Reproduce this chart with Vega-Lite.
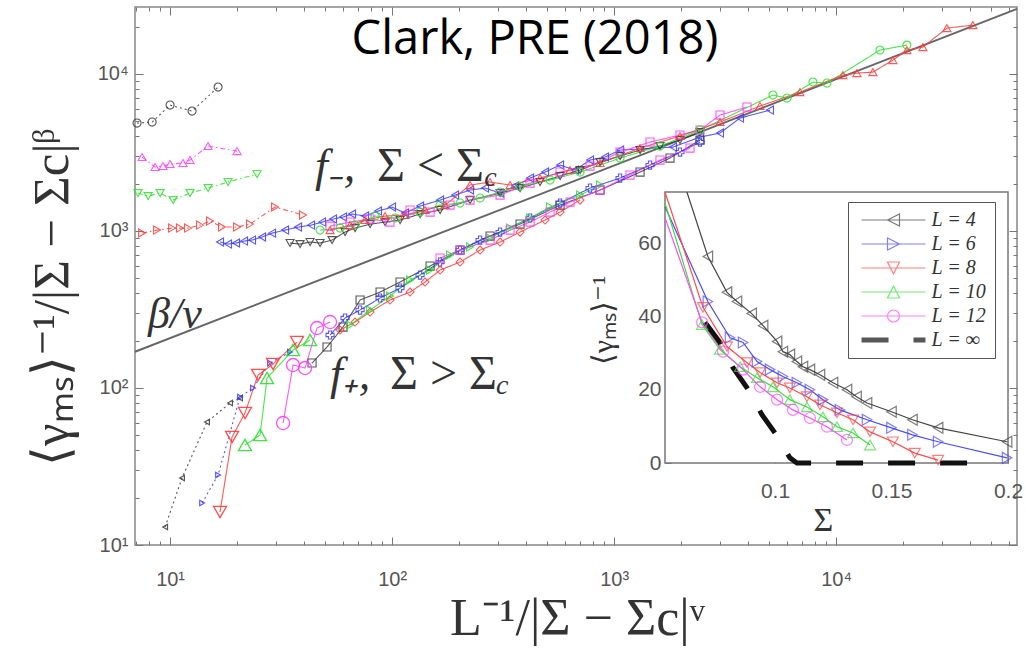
{
  "$schema": "https://vega.github.io/schema/vega-lite/v6.json",
  "width": 882,
  "height": 538,
  "autosize": "none",
  "padding": {"left": 135, "top": 7, "right": 9, "bottom": 104},
  "background": "white",
  "config": {
    "view": {"stroke": "#888", "strokeWidth": 1.5},
    "axis": {"labelFont": "Liberation Sans", "labelColor": "#555", "labelFontSize": 20, "tickColor": "#777", "domain": false, "grid": false, "titleFont": "Liberation Serif", "titleFontWeight": "normal", "titleColor": "#333", "labelOverlap": false, "labelFlush": false, "labelBound": false}
  },
  "datasets": {
    "main": [
      {"s":"a1","x":7.10,"y":4866},{"s":"a1","x":8.30,"y":4938},{"s":"a1","x":10,"y":6336},{"s":"a1","x":12.56,"y":5802},{"s":"a1","x":16.45,"y":8249},
      {"s":"a2","x":7.48,"y":2956},{"s":"a2","x":8.56,"y":2553},{"s":"a2","x":9.30,"y":2591},{"s":"a2","x":10,"y":2668},{"s":"a2","x":11.44,"y":2707},{"s":"a2","x":12.30,"y":2829},{"s":"a2","x":14.83,"y":3473},{"s":"a2","x":20.03,"y":3227},
      {"s":"a3","x":7.17,"y":1743},{"s":"a3","x":7.96,"y":1668},{"s":"a3","x":9.02,"y":1743},{"s":"a3","x":10.32,"y":1573},{"s":"a3","x":12.30,"y":1743},{"s":"a3","x":14.83,"y":1876},{"s":"a3","x":18.24,"y":2049},{"s":"a3","x":24.64,"y":2304},
      {"s":"a4","x":7.48,"y":970},{"s":"a4","x":8.74,"y":1013},{"s":"a4","x":10.21,"y":1043},{"s":"a4","x":11.09,"y":1043},{"s":"a4","x":12.05,"y":1043},{"s":"a4","x":13.65,"y":1090},{"s":"a4","x":15.14,"y":1156},{"s":"a4","x":17.14,"y":1059},{"s":"a4","x":20.03,"y":1059},{"s":"a4","x":22.92,"y":1106},{"s":"a4","x":29.69,"y":1420},{"s":"a4","x":39.71,"y":1263},
      {"s":"u1","x":16.79,"y":850},{"s":"u1","x":18.24,"y":825},{"s":"u1","x":19.82,"y":838},{"s":"u1","x":21.53,"y":862},{"s":"u1","x":23.40,"y":875},{"s":"u1","x":25.96,"y":915},{"s":"u1","x":28.79,"y":969},{"s":"u1","x":32.95,"y":1013},{"s":"u1","x":37.70,"y":1059},{"s":"u1","x":43.15,"y":1090},{"s":"u1","x":48.37,"y":1139},{"s":"u1","x":54.21,"y":1191},{"s":"u1","x":60.14,"y":1227},{"s":"u1","x":66.02,"y":1282},{"s":"u1","x":75.54,"y":1245},{"s":"u1","x":86.44,"y":1339},{"s":"u1","x":99.95,"y":1420},{"s":"u1","x":114.4,"y":1300},{"s":"u1","x":133.7,"y":1441},{"s":"u1","x":164.5,"y":1573},{"s":"u1","x":192.2,"y":1693},{"s":"u1","x":224.5,"y":1822},{"s":"u1","x":262.3,"y":1876},{"s":"u1","x":306.5,"y":1744},{"s":"u1","x":358.0,"y":1932},{"s":"u1","x":418.3,"y":2173},{"s":"u1","x":488.6,"y":2372},{"s":"u1","x":571.0,"y":2629},{"s":"u1","x":666.9,"y":2443},{"s":"u1","x":779.3,"y":2829},{"s":"u1","x":910.2,"y":2956},{"s":"u1","x":1064,"y":3275},{"s":"u1","x":1842,"y":3422},{"s":"u1","x":2438,"y":3964},{"s":"u1","x":3000,"y":4202},{"s":"u1","x":3691,"y":5237},{"s":"u1","x":5037,"y":5888},
      {"s":"u2","x":34.71,"y":838},{"s":"u2","x":38.5,"y":825},{"s":"u2","x":42.71,"y":850},{"s":"u2","x":47.38,"y":838},{"s":"u2","x":53.65,"y":875},{"s":"u2","x":61.39,"y":984},{"s":"u2","x":68.10,"y":1043},{"s":"u2","x":79.58,"y":1106},{"s":"u2","x":92.96,"y":1139},{"s":"u2","x":108.6,"y":1174},{"s":"u2","x":133.7,"y":1282},{"s":"u2","x":164.5,"y":1359},{"s":"u2","x":224.5,"y":1573},{"s":"u2","x":306.5,"y":1744},{"s":"u2","x":377.1,"y":1876},{"s":"u2","x":464.0,"y":2049},{"s":"u2","x":571.0,"y":2237},{"s":"u2","x":702.5,"y":2443},{"s":"u2","x":864.4,"y":2747},{"s":"u2","x":1064,"y":3000},{"s":"u2","x":1309,"y":3275},{"s":"u2","x":1610,"y":3473},{"s":"u2","x":1981,"y":3793},{"s":"u2","x":2438,"y":4264},
      {"s":"u3","x":52.55,"y":1074},{"s":"u3","x":64.67,"y":1139},{"s":"u3","x":79.58,"y":1191},{"s":"u3","x":97.9,"y":1139},{"s":"u3","x":120.5,"y":1359},{"s":"u3","x":148.3,"y":1320},{"s":"u3","x":182.5,"y":1462},{"s":"u3","x":224.5,"y":1573},{"s":"u3","x":306.5,"y":1693},{"s":"u3","x":418.3,"y":2019},{"s":"u3","x":571.0,"y":2372},{"s":"u3","x":779.3,"y":2591},{"s":"u3","x":1064,"y":3180},{"s":"u3","x":1452,"y":3683},{"s":"u3","x":1981,"y":4082},{"s":"u3","x":2438,"y":4391},{"s":"u3","x":3000,"y":5472},{"s":"u3","x":3968,"y":6153},
      {"s":"u4","x":47.38,"y":1013},{"s":"u4","x":58.3,"y":1043},{"s":"u4","x":68.10,"y":1090},{"s":"u4","x":83.80,"y":1245},{"s":"u4","x":103.1,"y":1209},{"s":"u4","x":133.7,"y":1320},{"s":"u4","x":164.5,"y":1462},{"s":"u4","x":202.4,"y":1506},{"s":"u4","x":249.1,"y":1620},{"s":"u4","x":306.5,"y":1769},{"s":"u4","x":377.1,"y":1932},{"s":"u4","x":514.7,"y":2110},{"s":"u4","x":702.5,"y":2372},{"s":"u4","x":1064,"y":2913},{"s":"u4","x":1610,"y":3473},{"s":"u4","x":2438,"y":4391},{"s":"u4","x":5196,"y":7336},{"s":"u4","x":6007,"y":7020},{"s":"u4","x":7866,"y":8876},{"s":"u4","x":9093,"y":8746},{"s":"u4","x":15757,"y":14190},{"s":"u4","x":20842,"y":15268},
      {"s":"u5","x":52.55,"y":1013},{"s":"u5","x":64.67,"y":1090},{"s":"u5","x":75.54,"y":1174},{"s":"u5","x":92.96,"y":1245},{"s":"u5","x":114.4,"y":1263},{"s":"u5","x":140.8,"y":1359},{"s":"u5","x":173.2,"y":1462},{"s":"u5","x":224.5,"y":1961},{"s":"u5","x":276.3,"y":2049},{"s":"u5","x":340.0,"y":1961},{"s":"u5","x":464.0,"y":2173},{"s":"u5","x":633.3,"y":2443},{"s":"u5","x":864.4,"y":2707},{"s":"u5","x":1309,"y":3373},{"s":"u5","x":1981,"y":4022},{"s":"u5","x":3000,"y":4938},{"s":"u5","x":4541,"y":6244},{"s":"u5","x":6875,"y":7666},{"s":"u5","x":10736,"y":9836},{"s":"u5","x":12411,"y":10127},{"s":"u5","x":14652,"y":10277},{"s":"u5","x":18029,"y":12255},{"s":"u5","x":20842,"y":14190},{"s":"u5","x":24606,"y":14827},{"s":"u5","x":31552,"y":19592},{"s":"u5","x":41320,"y":20473},
      {"s":"l1","x":9.50,"y":13.02},{"s":"l1","x":11.32,"y":26.71},{"s":"l1","x":14.67,"y":60.71},{"s":"l1","x":18.63,"y":80.21},{"s":"l1","x":20.66,"y":86.32},
      {"s":"l2","x":13.94,"y":18.52},{"s":"l2","x":16.45,"y":27.91},{"s":"l2","x":20.66,"y":87.59},{"s":"l2","x":23.64,"y":99.95},{"s":"l2","x":28.20,"y":144.2},{"s":"l2","x":34.71,"y":169.4},
      {"s":"l3","x":16.79,"y":16.23},{"s":"l3","x":19.02,"y":48.73},{"s":"l3","x":21.75,"y":69.27},{"s":"l3","x":24.90,"y":121.0},{"s":"l3","x":29.09,"y":142.1},{"s":"l3","x":37.31,"y":196.2},
      {"s":"l4","x":21.75,"y":43.33},{"s":"l4","x":25.43,"y":50.17},{"s":"l4","x":27.34,"y":115.7},{"s":"l4","x":35.80,"y":174.5},{"s":"l4","x":42.71,"y":202.0},
      {"s":"l5","x":32.28,"y":59.83},{"s":"l5","x":35.80,"y":140.0},{"s":"l5","x":40.54,"y":134.0},{"s":"l5","x":45.91,"y":240.9},{"s":"l5","x":52.55,"y":263.1},
      {"s":"l6","x":43.60,"y":144.2},{"s":"l6","x":50.93,"y":182.4},{"s":"l6","x":60.14,"y":244.4},{"s":"l6","x":71.74,"y":363.2},{"s":"l6","x":88.28,"y":408.3},{"s":"l6","x":108.6,"y":472.8},{"s":"l6","x":148.3,"y":597.9},{"s":"l6","x":202.4,"y":755.9},{"s":"l6","x":276.3,"y":928.2},{"s":"l6","x":377.1,"y":1107},{"s":"l6","x":571.0,"y":1462},{"s":"l6","x":864.4,"y":1822},{"s":"l6","x":1309,"y":2372},{"s":"l6","x":1786,"y":2913},{"s":"l6","x":2438,"y":3793},
      {"s":"l7","x":52.55,"y":217.4},{"s":"l7","x":61.39,"y":279.0},{"s":"l7","x":71.74,"y":313.6},{"s":"l7","x":88.28,"y":374.0},{"s":"l7","x":108.6,"y":433.0},{"s":"l7","x":133.7,"y":524.0},{"s":"l7","x":164.5,"y":633.9},{"s":"l7","x":202.4,"y":755.9},{"s":"l7","x":249.1,"y":875.3},{"s":"l7","x":306.5,"y":983.7},{"s":"l7","x":418.3,"y":1209},{"s":"l7","x":571.0,"y":1505},{"s":"l7","x":779.3,"y":1876},{"s":"l7","x":1064,"y":2173},{"s":"l7","x":1452,"y":2629},{"s":"l7","x":1981,"y":3180},{"s":"l7","x":2438,"y":3683},
      {"s":"l8","x":58.30,"y":233.9},{"s":"l8","x":68.10,"y":263.1},{"s":"l8","x":79.58,"y":304.5},{"s":"l8","x":97.9,"y":363.2},{"s":"l8","x":120.5,"y":408.3},{"s":"l8","x":140.8,"y":472.8},{"s":"l8","x":164.5,"y":563.8},{"s":"l8","x":202.4,"y":633.9},{"s":"l8","x":249.1,"y":755.9},{"s":"l8","x":306.5,"y":850},{"s":"l8","x":377.1,"y":983.7},{"s":"l8","x":488.6,"y":1174},{"s":"l8","x":571.0,"y":1320},{"s":"l8","x":702.5,"y":1573},
      {"s":"l9","x":64.67,"y":251.7},{"s":"l9","x":79.58,"y":313.6},{"s":"l9","x":97.9,"y":385.1},{"s":"l9","x":120.5,"y":486.9},{"s":"l9","x":148.3,"y":563.8},{"s":"l9","x":182.5,"y":702.4},{"s":"l9","x":224.5,"y":789.9},{"s":"l9","x":276.3,"y":901.4},{"s":"l9","x":340.0,"y":1043},{"s":"l9","x":418.3,"y":1209},{"s":"l9","x":514.7,"y":1420},{"s":"l9","x":702.5,"y":1693},{"s":"l9","x":864.4,"y":1961},
      {"s":"l10","x":164.5,"y":672.3},{"s":"l10","x":202.4,"y":755.9},{"s":"l10","x":276.3,"y":875.3},{"s":"l10","x":340.0,"y":1013},{"s":"l10","x":418.3,"y":1139},{"s":"l10","x":514.7,"y":1320},{"s":"l10","x":633.3,"y":1527},{"s":"l10","x":864.4,"y":1822},{"s":"l10","x":1180,"y":2270},{"s":"l10","x":1610,"y":2829},{"s":"l10","x":2198,"y":3373}
    ],
    "inset": [
      {"L":"L = 4","x":0.0622,"y":74},{"L":"L = 4","x":0.0712,"y":56.4},{"L":"L = 4","x":0.0794,"y":46.6},{"L":"L = 4","x":0.0837,"y":44.1},{"L":"L = 4","x":0.090,"y":40.8},{"L":"L = 4","x":0.0949,"y":37.5},{"L":"L = 4","x":0.1009,"y":33.2},{"L":"L = 4","x":0.1034,"y":30.4},{"L":"L = 4","x":0.1064,"y":29.6},{"L":"L = 4","x":0.1094,"y":27.7},{"L":"L = 4","x":0.112,"y":26.3},{"L":"L = 4","x":0.115,"y":25.5},{"L":"L = 4","x":0.1193,"y":24.1},{"L":"L = 4","x":0.1249,"y":21.9},{"L":"L = 4","x":0.1309,"y":20},{"L":"L = 4","x":0.135,"y":18.1},{"L":"L = 4","x":0.1395,"y":16.4},{"L":"L = 4","x":0.150,"y":14.0},{"L":"L = 4","x":0.159,"y":11.8},{"L":"L = 4","x":0.170,"y":9.6},{"L":"L = 4","x":0.1996,"y":5.8},
      {"L":"L = 6","x":0.0528,"y":70},{"L":"L = 6","x":0.0712,"y":44.1},{"L":"L = 6","x":0.0807,"y":34.2},{"L":"L = 6","x":0.0863,"y":32.9},{"L":"L = 6","x":0.0923,"y":27.7},{"L":"L = 6","x":0.0979,"y":25.5},{"L":"L = 6","x":0.1034,"y":23.6},{"L":"L = 6","x":0.1094,"y":21.9},{"L":"L = 6","x":0.115,"y":20},{"L":"L = 6","x":0.1206,"y":17.3},{"L":"L = 6","x":0.1279,"y":14.5},{"L":"L = 6","x":0.1395,"y":11.8},{"L":"L = 6","x":0.150,"y":9.6},{"L":"L = 6","x":0.159,"y":7.7},{"L":"L = 6","x":0.170,"y":5.8},{"L":"L = 6","x":0.1996,"y":1.4},
      {"L":"L = 8","x":0.0528,"y":74},{"L":"L = 8","x":0.0691,"y":42.5},{"L":"L = 8","x":0.0794,"y":31.8},{"L":"L = 8","x":0.088,"y":27.4},{"L":"L = 8","x":0.0936,"y":24.7},{"L":"L = 8","x":0.1009,"y":21.9},{"L":"L = 8","x":0.1064,"y":20.5},{"L":"L = 8","x":0.1137,"y":18.1},{"L":"L = 8","x":0.1193,"y":15.9},{"L":"L = 8","x":0.1266,"y":13.7},{"L":"L = 8","x":0.1335,"y":11.8},{"L":"L = 8","x":0.1408,"y":8.5},{"L":"L = 8","x":0.1506,"y":5.8},{"L":"L = 8","x":0.160,"y":2.7},{"L":"L = 8","x":0.170,"y":0.8},
      {"L":"L = 10","x":0.0528,"y":71},{"L":"L = 10","x":0.0687,"y":37.8},{"L":"L = 10","x":0.0764,"y":31},{"L":"L = 10","x":0.085,"y":26.3},{"L":"L = 10","x":0.0923,"y":23.3},{"L":"L = 10","x":0.0991,"y":20.8},{"L":"L = 10","x":0.1064,"y":17.3},{"L":"L = 10","x":0.1137,"y":15.3},{"L":"L = 10","x":0.1206,"y":12.6},{"L":"L = 10","x":0.1266,"y":9.9},{"L":"L = 10","x":0.1335,"y":8.2},{"L":"L = 10","x":0.1408,"y":4.9},
      {"L":"L = 12","x":0.0528,"y":67},{"L":"L = 12","x":0.0687,"y":38.4},{"L":"L = 12","x":0.0777,"y":30.4},{"L":"L = 12","x":0.0863,"y":25.5},{"L":"L = 12","x":0.0936,"y":20.8},{"L":"L = 12","x":0.1009,"y":17.3},{"L":"L = 12","x":0.1077,"y":14.5},{"L":"L = 12","x":0.115,"y":12.3},{"L":"L = 12","x":0.1223,"y":9.9},{"L":"L = 12","x":0.1309,"y":6.3},
      {"L":"L = ∞","x":0.070,"y":38.4},{"L":"L = ∞","x":0.0764,"y":32.9},{"L":"L = ∞","x":0.082,"y":26},{"L":"L = ∞","x":0.088,"y":20.5},{"L":"L = ∞","x":0.0944,"y":13.2},{"L":"L = ∞","x":0.1,"y":8.2},{"L":"L = ∞","x":0.1064,"y":1.4},{"L":"L = ∞","x":0.1094,"y":0},{"L":"L = ∞","x":0.188,"y":0}
    ]
  },
  "layer": [
    {
      "data": {"name": "main"},
      "layer": [
        {
          "data": {"values": [{"x": 6.95, "y": 170}, {"x": 65300, "y": 26000}]},
          "mark": {"type": "line", "color": "#666", "strokeWidth": 2},
          "encoding": {
            "x": {"field": "x", "type": "quantitative", "scale": {"type": "log", "domain": [6.95, 65300], "nice": false},
              "axis": {"orient": "bottom", "values": [10, 100, 1000, 10000], "labelExpr": "datum.value == 10 ? '10¹' : datum.value == 100 ? '10²' : datum.value == 1000 ? '10³' : '10⁴'", "tickSize": -8, "labelPadding": 32, "title": "L⁻¹/|Σ − Σc|ᵛ", "titleFontSize": 52, "titleX": 442, "titleY": 73, "titleBaseline": "middle", "titleAlign": "center"}},
            "y": {"field": "y", "type": "quantitative", "scale": {"type": "log", "domain": [10, 26700], "nice": false},
              "axis": {"orient": "left", "values": [10, 100, 1000, 10000], "labelExpr": "datum.value == 10 ? '10¹' : datum.value == 100 ? '10²' : datum.value == 1000 ? '10³' : '10⁴'", "tickSize": -8, "labelPadding": 15, "title": "⟨γₘₛ⟩⁻¹/|Σ − Σc|ᵝ", "titleFontSize": 51, "titleX": -83, "titleY": 290, "titleAngle": 270, "titleBaseline": "middle", "titleAlign": "center", "titleLimit": 1000}}
          }
        },
        {
          "mark": {"type": "line", "strokeWidth": 1.1, "strokeOpacity": 0.85},
          "encoding": {
            "x": {"field": "x", "type": "quantitative", "axis": {"orient": "bottom", "values": [7,8,9,20,30,40,50,60,70,80,90,200,300,400,500,600,700,800,900,2000,3000,4000,5000,6000,7000,8000,9000,20000,30000,40000,50000,60000], "labels": false, "tickSize": -4, "title": null}},
            "y": {"field": "y", "type": "quantitative", "axis": {"orient": "left", "values": [20,30,40,50,60,70,80,90,200,300,400,500,600,700,800,900,2000,3000,4000,5000,6000,7000,8000,9000,20000], "labels": false, "tickSize": -4, "title": null}},
            "color": {"field": "s", "type": "nominal", "legend": null, "scale": {"domain": ["a1","a2","a3","a4","u1","u2","u3","u4","u5","l1","l2","l3","l4","l5","l6","l7","l8","l9","l10"], "range": ["#3a3a3a","#ff3cff","#2ee02e","#ff3c3c","#3c3cff","#3a3a3a","#ff3cff","#2ee02e","#ff3c3c","#3a3a3a","#3c3cff","#ff3c3c","#2ee02e","#ff3cff","#3a3a3a","#3c3cff","#ff3c3c","#2ee02e","#ff3cff"]}},
            "strokeDash": {"field": "s", "type": "nominal", "legend": null, "scale": {"domain": ["a1","a2","a3","a4","u1","u2","u3","u4","u5","l1","l2","l3","l4","l5","l6","l7","l8","l9","l10"], "range": [[2,3],[5,3,1.5,3],[5,3,1.5,3],[5,3,1.5,3],[1,0],[1,0],[1,0],[1,0],[1,0],[2,3],[2,3],[1,0],[1,0],[1,0],[1,0],[1,0],[1,0],[1,0],[1,0]]}}
          }
        },
        {
          "transform": [{"filter": {"not": {"field": "s", "oneOf": ["l1","l2","l3","l4","l5"]}}}],
          "mark": {"type": "point", "filled": false, "size": 65, "strokeWidth": 1.1, "opacity": 0.85},
          "encoding": {
            "x": {"field": "x", "type": "quantitative", "axis": {"orient": "top", "values": [10, 100, 1000, 10000], "labels": false, "tickSize": -8, "title": null}},
            "y": {"field": "y", "type": "quantitative", "axis": {"orient": "right", "values": [10, 100, 1000, 10000], "labels": false, "tickSize": -8, "title": null}},
            "color": {"field": "s", "type": "nominal", "legend": null},
            "shape": {"field": "s", "type": "nominal", "legend": null, "scale": {"domain": ["a1","a2","a3","a4","u1","u2","u3","u4","u5","l1","l2","l3","l4","l5","l6","l7","l8","l9","l10"], "range": ["circle","triangle-up","triangle-down","triangle-right","triangle-left","triangle-down","square","circle","triangle-up","triangle-left","triangle-right","triangle-down","triangle-up","circle","square","cross","diamond","triangle-right","square"]}}
          }
        },
        {
          "transform": [{"filter": {"field": "s", "oneOf": ["l1","l2"]}}],
          "mark": {"type": "point", "filled": false, "size": 30, "strokeWidth": 1.2, "opacity": 0.85},
          "encoding": {
            "x": {"field": "x", "type": "quantitative", "axis": {"orient": "top", "values": [7,8,9,20,30,40,50,60,70,80,90,200,300,400,500,600,700,800,900,2000,3000,4000,5000,6000,7000,8000,9000,20000,30000,40000,50000,60000], "labels": false, "tickSize": -4, "title": null}},
            "y": {"field": "y", "type": "quantitative", "axis": {"orient": "right", "values": [20,30,40,50,60,70,80,90,200,300,400,500,600,700,800,900,2000,3000,4000,5000,6000,7000,8000,9000,20000], "labels": false, "tickSize": -4, "title": null}},
            "color": {"field": "s", "type": "nominal", "legend": null},
            "shape": {"field": "s", "type": "nominal", "legend": null}
          }
        },
        {
          "transform": [{"filter": {"field": "s", "oneOf": ["l3","l4","l5"]}}],
          "mark": {"type": "point", "filled": false, "size": 170, "strokeWidth": 1.3, "opacity": 0.9},
          "encoding": {
            "x": {"field": "x", "type": "quantitative", "axis": null},
            "y": {"field": "y", "type": "quantitative", "axis": null},
            "color": {"field": "s", "type": "nominal", "legend": null},
            "shape": {"field": "s", "type": "nominal", "legend": null}
          }
        },
        {
          "data": {"values": [{}]},
          "mark": {"type": "text", "font": "Open Sans", "fontSize": 47, "color": "black", "align": "center", "baseline": "middle"},
          "encoding": {"x": {"datum": 440, "type": "quantitative", "axis": null}, "y": {"datum": 16480, "type": "quantitative", "axis": null}, "text": {"value": "Clark, PRE (2018)"}}
        },
        {
          "data": {"values": [{}]},
          "mark": {"type": "text", "font": "Liberation Serif", "fontSize": 46, "fontStyle": "italic", "color": "#333", "align": "left", "baseline": "middle"},
          "encoding": {"x": {"datum": 44.9, "type": "quantitative", "axis": null}, "y": {"datum": 2556, "type": "quantitative", "axis": null}, "text": {"value": "f₋,"}}
        },
        {
          "data": {"values": [{}]},
          "mark": {"type": "text", "font": "Liberation Serif", "fontSize": 48, "color": "#333", "align": "left", "baseline": "middle"},
          "encoding": {"x": {"datum": 85.6, "type": "quantitative", "axis": null}, "y": {"datum": 2556, "type": "quantitative", "axis": null}, "text": {"value": "Σ   <   Σ"}}
        },
        {
          "data": {"values": [{}]},
          "mark": {"type": "text", "font": "Liberation Serif", "fontSize": 28, "fontStyle": "italic", "color": "#333", "align": "left", "baseline": "middle"},
          "encoding": {"x": {"datum": 260, "type": "quantitative", "axis": null}, "y": {"datum": 2176, "type": "quantitative", "axis": null}, "text": {"value": "c"}}
        },
        {
          "data": {"values": [{}]},
          "mark": {"type": "text", "font": "Liberation Serif", "fontSize": 46, "fontStyle": "italic", "color": "#333", "align": "left", "baseline": "middle"},
          "encoding": {"x": {"datum": 52.5, "type": "quantitative", "axis": null}, "y": {"datum": 121, "type": "quantitative", "axis": null}, "text": {"value": "f₊,"}}
        },
        {
          "data": {"values": [{}]},
          "mark": {"type": "text", "font": "Liberation Serif", "fontSize": 48, "color": "#333", "align": "left", "baseline": "middle"},
          "encoding": {"x": {"datum": 97.9, "type": "quantitative", "axis": null}, "y": {"datum": 121, "type": "quantitative", "axis": null}, "text": {"value": "Σ   >   Σ"}}
        },
        {
          "data": {"values": [{}]},
          "mark": {"type": "text", "font": "Liberation Serif", "fontSize": 28, "fontStyle": "italic", "color": "#333", "align": "left", "baseline": "middle"},
          "encoding": {"x": {"datum": 294, "type": "quantitative", "axis": null}, "y": {"datum": 103, "type": "quantitative", "axis": null}, "text": {"value": "c"}}
        },
        {
          "data": {"values": [{}]},
          "mark": {"type": "text", "font": "Liberation Serif", "fontSize": 44, "fontStyle": "italic", "color": "#333", "align": "left", "baseline": "middle"},
          "encoding": {"x": {"datum": 7.96, "type": "quantitative", "axis": null}, "y": {"datum": 292, "type": "quantitative", "axis": null}, "text": {"value": "β/ν"}}
        }
      ],
      "resolve": {"axis": {"x": "independent", "y": "independent"}}
    },
    {
      "data": {"name": "inset"},
      "layer": [
        {
          "data": {"values": [{}]},
          "mark": {"type": "rect", "fill": "white", "stroke": "#777", "strokeWidth": 1.5},
          "encoding": {
            "x": {"datum": 0.0528, "type": "quantitative", "scale": {"domain": [0.0528, 0.2], "range": [530, 873], "nice": false, "zero": false},
              "axis": {"orient": "bottom", "offset": -82, "values": [0.1, 0.15, 0.2], "format": "~g", "tickSize": -6, "labelPadding": 23, "labelFontSize": 21, "title": "Σ", "titleFontSize": 34, "titleX": 688, "titleY": 57, "titleBaseline": "middle", "titleAlign": "center"}},
            "x2": {"datum": 0.2},
            "y": {"datum": 0, "type": "quantitative", "scale": {"domain": [0, 74], "range": [456, 185], "nice": false, "zero": false},
              "axis": {"orient": "left", "offset": -530, "values": [0, 20, 40, 60], "format": "d", "tickSize": -6, "labelPadding": 10, "labelFontSize": 21, "title": "⟨γₘₛ⟩⁻¹", "titleFontSize": 30, "titleX": -62, "titleY": 313, "titleAngle": 270, "titleBaseline": "middle", "titleAlign": "center"}},
            "y2": {"datum": 74}
          }
        },
        {
          "transform": [{"filter": "datum.L != 'L = ∞'"}],
          "mark": {"type": "line", "strokeWidth": 1.2},
          "encoding": {
            "x": {"field": "x", "type": "quantitative", "axis": {"orient": "top", "offset": -185, "values": [0.1, 0.15], "labels": false, "tickSize": -6, "title": null}},
            "y": {"field": "y", "type": "quantitative", "axis": {"orient": "right", "offset": -9, "values": [20, 40, 60], "labels": false, "tickSize": -6, "title": null}},
            "color": {"field": "L", "type": "nominal", "legend": null, "scale": {"domain": ["L = 4","L = 6","L = 8","L = 10","L = 12"], "range": ["#444444","#4a4aff","#ff4a4a","#3ddd3d","#ff4aff"]}}
          }
        },
        {
          "transform": [{"filter": "datum.L == 'L = ∞'"}],
          "mark": {"type": "line", "color": "#111", "strokeWidth": 5, "strokeDash": [27, 25]},
          "encoding": {
            "x": {"field": "x", "type": "quantitative", "axis": null},
            "y": {"field": "y", "type": "quantitative", "axis": null}
          }
        },
        {
          "transform": [{"filter": "datum.L != 'L = ∞' && datum.x > 0.053 && datum.y < 73.9"}],
          "mark": {"type": "point", "filled": false, "size": 120, "strokeWidth": 1.2},
          "encoding": {
            "x": {"field": "x", "type": "quantitative", "axis": null},
            "y": {"field": "y", "type": "quantitative", "axis": null},
            "stroke": {"field": "L", "type": "nominal", "legend": null, "scale": {"domain": ["L = 4","L = 6","L = 8","L = 10","L = 12"], "range": ["#444444","#4a4aff","#ff4a4a","#3ddd3d","#ff4aff"]}},
            "shape": {"field": "L", "type": "nominal", "legend": null, "scale": {"domain": ["L = 4","L = 6","L = 8","L = 10","L = 12"], "range": ["triangle-left","triangle-right","triangle-down","triangle-up","circle"]}}
          }
        },
        {
          "transform": [{"filter": "false"}],
          "mark": {"type": "point", "filled": false, "strokeWidth": 1.2},
          "encoding": {
            "x": {"field": "x", "type": "quantitative", "axis": null},
            "y": {"field": "y", "type": "quantitative", "axis": null},
            "stroke": {"field": "L", "type": "nominal", "scale": {"domain": ["L = 4","L = 6","L = 8","L = 10","L = 12","L = ∞"], "range": ["#444444","#4a4aff","#ff4a4a","#3ddd3d","#ff4aff","#111111"]},
              "legend": {"orient": "none", "legendX": 713, "legendY": 195, "title": null, "symbolSize": 144, "symbolOffset": 27.5, "labelOffset": 28, "padding": 8, "rowPadding": 4, "labelFont": "Liberation Serif", "labelFontStyle": "italic", "labelFontSize": 20, "labelColor": "#333", "strokeColor": "#555", "symbolStrokeWidth": 1.2}},
            "shape": {"field": "L", "type": "nominal", "scale": {"domain": ["L = 4","L = 6","L = 8","L = 10","L = 12","L = ∞"], "range": [
              "M-5.33,0H5.33M-1,0L1,-1L1,1Z",
              "M-5.33,0H5.33M1,0L-1,-1L-1,1Z",
              "M-5.33,0H5.33M-1,-1L1,-1L0,1Z",
              "M-5.33,0H5.33M-1,1L1,1L0,-1Z",
              "M-5.33,0H5.33M1,0A1,1,0,1,1,-1,0A1,1,0,1,1,1,0Z",
              "M-5.33,-0.3H-0.83M-5.33,-0.1H-0.83M-5.33,0.1H-0.83M-5.33,0.3H-0.83M3.33,-0.3H5.33M3.33,-0.1H5.33M3.33,0.1H5.33M3.33,0.3H5.33"
            ]}}
          }
        }
      ],
      "resolve": {"axis": {"x": "independent", "y": "independent"}, "scale": {"stroke": "independent", "shape": "independent"}}
    }
  ],
  "resolve": {"scale": {"x": "independent", "y": "independent", "color": "independent", "shape": "independent", "strokeDash": "independent", "stroke": "independent"}}
}
